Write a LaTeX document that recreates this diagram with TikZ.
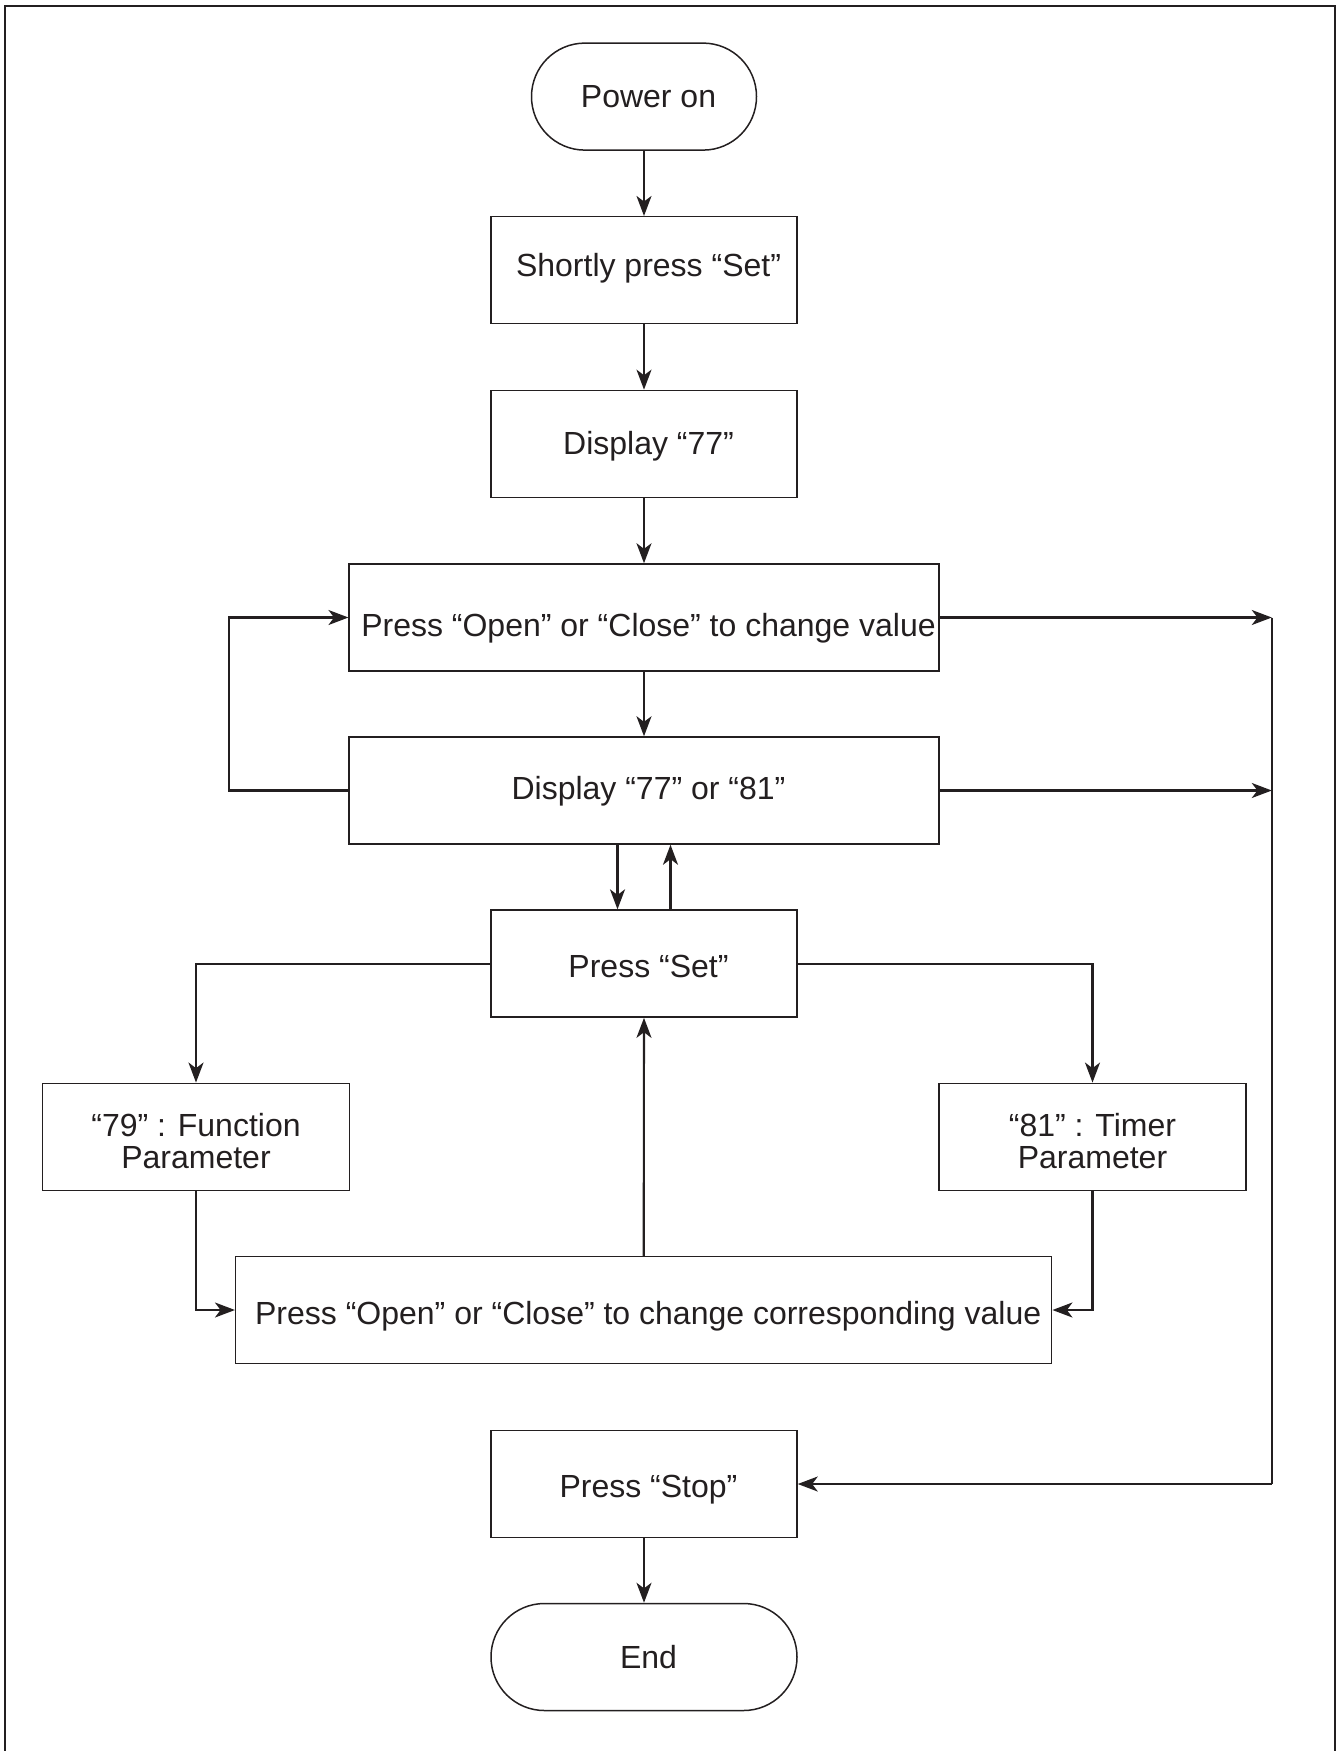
\documentclass[tikz,border=0pt]{standalone}
\usepackage{fontspec}
\setmainfont{Liberation Sans}
\usetikzlibrary{arrows.meta}
\definecolor{ink}{HTML}{231F20}
\begin{document}
\begin{tikzpicture}[x=0.5pt,y=-0.5pt,
  font=\fontsize{16pt}{15.7pt}\selectfont,
  box/.style={draw=ink, line width=0.75pt, text=ink, minimum height=53.5pt, minimum width=153pt, inner sep=0pt, align=center},
  term/.style={box, rounded corners=26.7pt},
  sh/.style={text height=#1, text depth=0.6pt, execute at begin node={\hspace*{4.5pt}}},
  two/.style={text height=31.3pt, text depth=0pt},
  conn/.style={draw=ink, line width=1.05pt, -{Stealth[length=10pt,width=7.5pt,inset=2.8pt]}},
  plain/.style={draw=ink, line width=1.05pt}]
\useasboundingbox (0,0) rectangle (1341,1751);
\draw[ink, line width=1pt] (5,1751) -- (5,6) -- (1334.5,6) -- (1334.5,1751);

\node[term, sh=11.6pt, minimum width=112.5pt] (pon) at (644,96.6) {Power on};
\node[box, sh=7.1pt] (short) at (644,270.2) {Shortly press “Set”};
\node[box, sh=11.6pt] (d77) at (644,443.9) {Display “77”};
\node[box, sh=19.6pt, minimum width=294.8pt] (poc) at (644,617.5) {Press “Open” or “Close” to change value};
\node[box, sh=9.6pt, minimum width=294.8pt] (d7781) at (644,790.5) {Display “77” or “81”};
\node[box, sh=14.1pt] (pset) at (644,963.6) {Press “Set”};
\node[box, two, minimum width=153.5pt] (p79) at (196,1136.8) {“79” : Function\\Parameter};
\node[box, two, minimum width=153.5pt] (p81) at (1092.5,1136.8) {“81” : Timer\\Parameter};
\node[box, sh=15.1pt, minimum width=408pt] (pcor) at (643.7,1310) {Press “Open” or “Close” to change corresponding value};
\node[box, sh=14pt] (stop) at (644,1484) {Press “Stop”};
\node[term, sh=11.6pt] (end) at (644,1657) {End};

\coordinate (rtop) at (1271.8,617.5);
\coordinate (rmid) at (1271.8,790.5);
\coordinate (rbot) at (1271.8,1484);

\draw[conn] (pon) -- (short);
\draw[conn] (short) -- (d77);
\draw[conn] (d77) -- (poc);
\draw[conn] (poc) -- (d7781);
\draw[conn] (d7781.west) -- ++(-119.5,0) |- (poc.west);
\draw[conn] (poc.east) -- (rtop);
\draw[conn] (d7781.east) -- (rmid);
\draw[plain] (rtop) -- (rbot);
\draw[conn] (rbot) -- (stop.east);
\draw[conn] ([xshift=-13.25pt]d7781.south) -- ([xshift=-13.25pt]pset.north);
\draw[conn] ([xshift=13.25pt]pset.north) -- ([xshift=13.25pt]d7781.south);
\draw[conn] (pset.west) -| (p79.north);
\draw[conn] (pset.east) -| (p81.north);
\draw[conn] (p79.south) |- (pcor.west);
\draw[conn] (p81.south) |- (pcor.east);
\draw[conn] (pcor.north) -- (pset.south);
\draw[conn] (stop) -- (end);
\end{tikzpicture}
\end{document}
